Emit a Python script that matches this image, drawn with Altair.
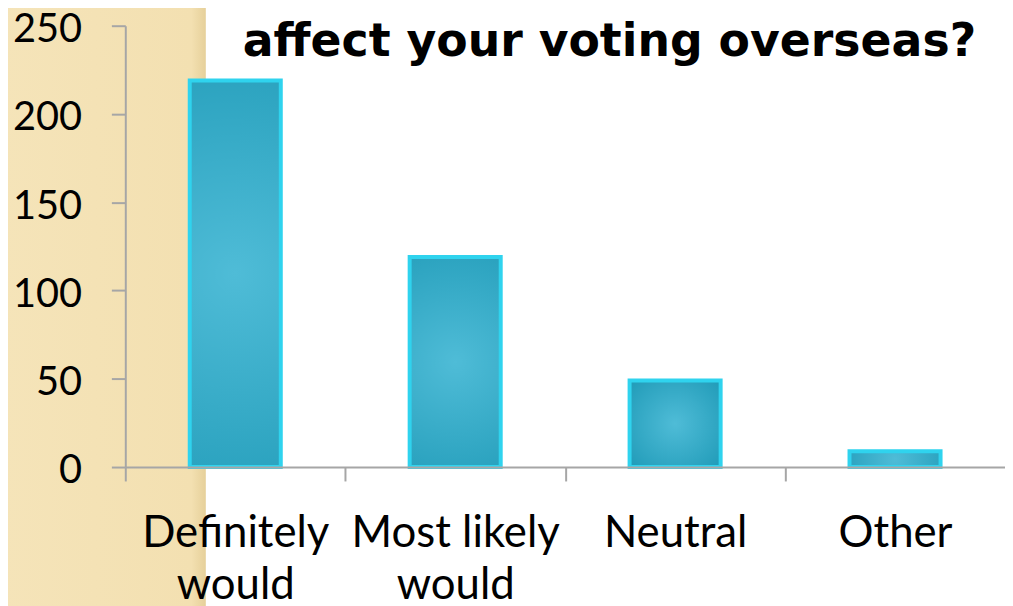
import altair as alt
import pandas as pd

categories = ["Definitely would", "Most likely would", "Neutral", "Other"]
counts = [219, 119, 49, 9]
y_ticks = [0, 50, 100, 150, 200, 250]
title_text = "affect your voting overseas?"

df = pd.DataFrame({"answer": categories, "count": counts})
bg = pd.DataFrame({"k": [0]})
tdf = pd.DataFrame({"t": [title_text]})

W, H = 885, 444
STEP = W / len(categories)
FONT = "Lato"

strip = alt.Chart(bg).mark_rect(
    color=alt.Gradient(
        gradient="linear", x1=0, x2=1, y1=0, y2=0,
        stops=[alt.GradientStop(color="#f5e4b9", offset=0),
               alt.GradientStop(color="#f3e0b1", offset=0.93),
               alt.GradientStop(color="#e6d09a", offset=1)]
    )
).encode(
    x=alt.value(-126), x2=alt.value(81),
    y=alt.value(-30), y2=alt.value(H + 160)
)

bars = alt.Chart(df).mark_bar(
    color=alt.Gradient(
        gradient="radial", x1=0.5, y1=0.5, x2=0.5, y2=0.5, r1=0, r2=0.7,
        stops=[alt.GradientStop(color="#4fbcd7", offset=0),
               alt.GradientStop(color="#1f9ab7", offset=1)]
    ),
    stroke="#2fd3ee", strokeWidth=4
).encode(
    x=alt.X("answer:N", sort=categories, title=None,
            scale=alt.Scale(paddingInner=0.586, paddingOuter=0.293),
            axis=alt.Axis(
                labelAngle=0, labelFont=FONT, labelFontSize=44, labelColor="black",
                labelLineHeight=52, labelPadding=31, labelBaseline="top",
                labelExpr="datum.label == 'Definitely would' ? ['Definitely', 'would'] : datum.label == 'Most likely would' ? ['Most likely', 'would'] : datum.label",
                tickOffset=-STEP / 2, labelOffset=STEP / 2, tickSize=14,
                tickColor="#a6a6a6", tickWidth=2,
                domainColor="#a6a6a6", domainWidth=2, labelLimit=400, zindex=1)),
    y=alt.Y("count:Q", title=None,
            scale=alt.Scale(domain=[0, 250], nice=False),
            axis=alt.Axis(values=y_ticks, grid=False, labelFont=FONT, labelFontSize=40,
                          labelColor="black", labelPadding=30, labelOffset=4, tickSize=14,
                          tickColor="#a6a6a6", tickWidth=2, domainColor="#a6a6a6",
                          domainWidth=2, zindex=1))
)

title = alt.Chart(tdf).mark_text(
    font="DejaVu Sans", fontSize=46, fontWeight="bold", color="black",
    align="right", baseline="alphabetic"
).encode(text="t:N", x=alt.value(W - 29), y=alt.value(30))

chart = alt.layer(strip, bars, title).properties(
    width=W, height=H,
    autosize=alt.AutoSizeParams(type="none"),
    padding={"left": 118, "top": 16, "right": 0, "bottom": 140},
).configure_view(stroke=None)

chart.save("out.html", embed_options={"renderer": "svg", "actions": False})
